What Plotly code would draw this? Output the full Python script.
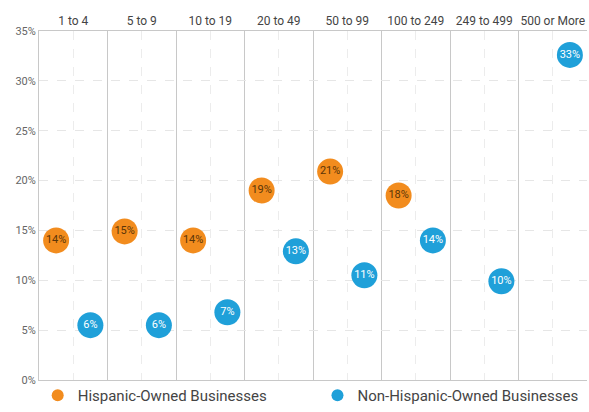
import plotly.graph_objects as go

categories = ["1 to 4", "5 to 9", "10 to 19", "20 to 49", "50 to 99",
              "100 to 249", "249 to 499", "500 or More"]
hispanic = [14.0, 14.9, 14.0, 19.0, 20.9, 18.5, None, None]
hispanic_labels = ["14%", "15%", "14%", "19%", "21%", "18%", "", ""]
non_hispanic = [5.5, 5.5, 6.8, 12.9, 10.5, 14.0, 9.9, 32.6]
non_hispanic_labels = ["6%", "6%", "7%", "13%", "11%", "14%", "10%", "33%"]
y_ticks = [0, 5, 10, 15, 20, 25, 30, 35]
y_tick_labels = ["0%", "5%", "10%", "15%", "20%", "25%", "30%", "35%"]

ORANGE = "#F28C1E"
BLUE = "#1FA0D9"
FONT = "Roboto"

n = len(categories)
centers = [i + 0.5 for i in range(n)]

fig = go.Figure()
fig.add_trace(go.Scatter(
    x=[i + 0.25 for i in range(n)], y=hispanic,
    mode="markers+text", text=hispanic_labels, textposition="middle center",
    textfont=dict(family=FONT, size=11, color="#5a3508"),
    marker=dict(size=26, color=ORANGE, line=dict(width=0)),
    name="Hispanic-Owned Businesses", cliponaxis=False, legend="legend"))
fig.add_trace(go.Scatter(
    x=[i + 0.75 for i in range(n)], y=non_hispanic,
    mode="markers+text", text=non_hispanic_labels, textposition="middle center",
    textfont=dict(family=FONT, size=11, color="white"),
    marker=dict(size=26, color=BLUE, line=dict(width=0)),
    name="Non-Hispanic-Owned Businesses", cliponaxis=False, legend="legend2"))

legend_common = dict(orientation="h", xref="container", yref="container",
                     y=-0.02, xanchor="left", yanchor="bottom",
                     font=dict(family=FONT, size=15, color="#444"),
                     itemsizing="constant", bgcolor="rgba(0,0,0,0)")

fig.update_layout(
    width=589, height=412,
    margin=dict(l=39, r=2, t=31, b=32, autoexpand=False),
    paper_bgcolor="white", plot_bgcolor="white",
    font=dict(family=FONT, color="#555"),
    showlegend=True,
    legend=dict(x=0.064, **legend_common),
    legend2=dict(x=0.539, **legend_common),
)
fig.update_xaxes(
    range=[0, n], side="top", automargin=False,
    tickmode="array", tickvals=centers, ticktext=categories,
    tickfont=dict(family=FONT, size=12, color="#444"),
    ticks="", ticklen=0,
    showgrid=True, gridcolor="#ececec", griddash="dash", gridwidth=1,
    minor=dict(tickmode="array", tickvals=list(range(n + 1)), showgrid=True,
               gridcolor="#c8c8c8", griddash="solid", gridwidth=1),
    showline=True, linecolor="#c8c8c8", linewidth=1, mirror=True,
    zeroline=False, fixedrange=True,
)
fig.update_yaxes(
    range=[0, 35], automargin=False,
    tickmode="array", tickvals=y_ticks, ticktext=y_tick_labels,
    tickfont=dict(family=FONT, size=11, color="#666"),
    showgrid=True, gridcolor="#e6e6e6", griddash="dash", gridwidth=1,
    showline=True, linecolor="#c8c8c8", linewidth=1,
    zeroline=False, ticks="", ticklen=2,
)

fig.write_html("out.html", config={"displayModeBar": False},
               post_script="document.body.style.margin='0';document.body.style.overflow='hidden';")
